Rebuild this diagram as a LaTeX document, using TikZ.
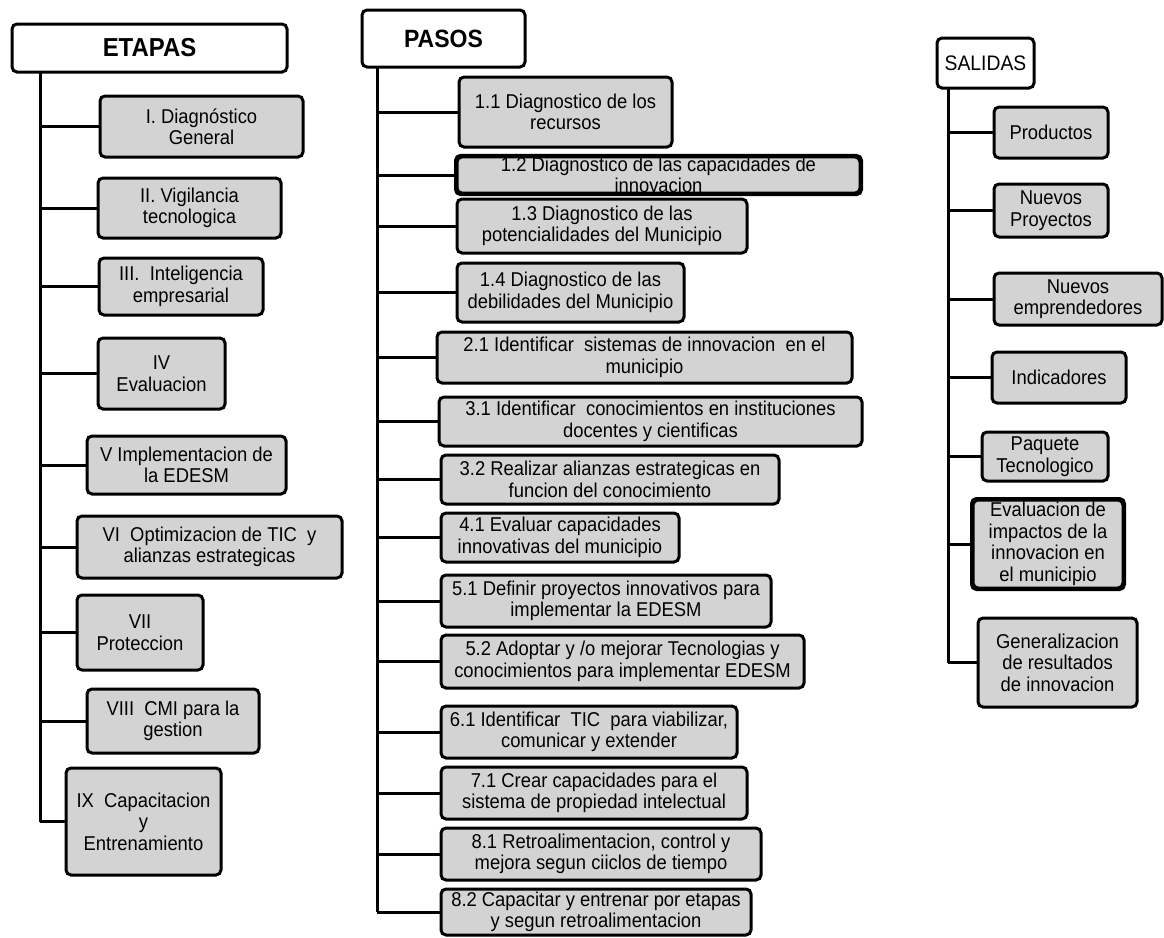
\documentclass[tikz,border=0pt]{standalone}
\usepackage{fontspec}
\setmainfont[FakeStretch=0.92]{Liberation Sans}
\definecolor{boxgray}{RGB}{211,211,211}
\begin{document}
\begin{tikzpicture}[x=1pt,y=-1pt,
  box/.style={draw=black, line width=3pt, rounded corners=5pt, fill=boxgray, inner sep=0pt,
     align=center, font=\fontsize{20}{21.5}\selectfont},
  head/.style={draw=black, line width=3pt, rounded corners=5pt, fill=white, inner sep=0pt, align=center},
  link/.style={draw=black, line width=3pt}]
\useasboundingbox (0,0) rectangle (1164,937);
% ETAPAS
\node[head, font=\bfseries\fontsize{26}{28}\selectfont, minimum width=275pt, minimum height=48pt] (etapas) at (149.5,48) {ETAPAS};
\node[box, minimum width=203pt, minimum height=61pt] (e1) at (201.5,126.5) {I. Diagnóstico\\General};
\node[box, minimum width=183pt, minimum height=60pt] (e2) at (189.5,208) {II. Vigilancia\\tecnologica};
\node[box, minimum width=164pt, minimum height=57pt] (e3) at (181,286.5) {III.\ \ Inteligencia\\empresarial};
\node[box, minimum width=127pt, minimum height=71pt] (e4) at (161.5,373.5) {IV\\Evaluacion};
\node[box, minimum width=199pt, minimum height=58pt] (e5) at (186.5,465) {V Implementacion de\\la EDESM};
\node[box, minimum width=265pt, minimum height=62pt] (e6) at (209.5,547) {VI\ \ Optimizacion de TIC\ \ y\\alianzas estrategicas};
\node[box, minimum width=126pt, minimum height=75pt] (e7) at (140,632.5) {VII\\Proteccion};
\node[box, minimum width=172pt, minimum height=64pt] (e8) at (173,721) {VIII\ \ CMI\ para la\\gestion};
\node[box, minimum width=155pt, minimum height=107pt] (e9) at (143.5,821.5) {IX\ \ Capacitacion\\y\\Entrenamiento};
\coordinate (eTop) at (40,72);
\draw[link] (eTop) -- (eTop |- e9.west);
\foreach \n in {e1,e2,e3,e4,e5,e6,e7,e8,e9} \draw[link] (\n.west) -- (\n.west -| eTop);
% PASOS
\node[head, font=\bfseries\fontsize{25}{27}\selectfont, minimum width=163pt, minimum height=57pt] (pasos) at (443.5,38.5) {PASOS};
\node[box, minimum width=213pt, minimum height=70pt] (p11) at (565.5,112) {1.1 Diagnostico de los\\recursos};
\node[box, minimum width=403pt, minimum height=36pt] (p12) at (658.5,175) {1.2 Diagnostico de las capacidades de\\innovacion};
\draw[line width=3pt, rounded corners=5pt] (p12.north west) rectangle (p12.south east);
\node[box, minimum width=290pt, minimum height=54pt] (p13) at (602,226) {1.3 Diagnostico de las\\potencialidades del Municipio};
\node[box, minimum width=227pt, minimum height=59pt] (p14) at (570.5,292.5) {1.4 Diagnostico de las\\debilidades del Municipio};
\node[box, minimum width=415pt, minimum height=51pt] (p21) at (644.5,357.5) {2.1 Identificar\ \ sistemas de innovacion\ \ en el\\municipio};
\node[box, minimum width=423pt, minimum height=49pt] (p31) at (650.5,421.5) {3.1 Identificar\ \ conocimientos en instituciones\\docentes y cientificas};
\node[box, minimum width=338pt, minimum height=49pt] (p32) at (610,479.5) {3.2 Realizar alianzas estrategicas en\\funcion del conocimiento};
\node[box, minimum width=238pt, minimum height=49pt] (p41) at (560,537.5) {4.1 Evaluar capacidades\\innovativas del municipio};
\node[box, minimum width=330pt, minimum height=52pt] (p51) at (606,601) {5.1 Definir proyectos innovativos para\\implementar la EDESM};
\node[box, minimum width=363pt, minimum height=53pt] (p52) at (622.5,661.5) {5.2 Adoptar\ y /o mejorar Tecnologias y\\conocimientos para implementar EDESM};
\node[box, minimum width=296pt, minimum height=52pt] (p61) at (589,732) {6.1 Identificar\ \ TIC\ \ para viabilizar,\\comunicar y extender};
\node[box, minimum width=306pt, minimum height=52pt] (p71) at (594,793) {7.1 Crear capacidades para el\\sistema de propiedad intelectual};
\node[box, minimum width=320pt, minimum height=52pt] (p81) at (601,854) {8.1 Retroalimentacion, control y\\mejora segun ciiclos de tiempo};
\node[box, minimum width=310pt, minimum height=46pt] (p82) at (596,912) {8.2 Capacitar y entrenar por etapas\\y segun retroalimentacion};
\coordinate (pTop) at (377,67);
\draw[link] (pTop) -- (pTop |- p82.west);
\foreach \n in {p11,p12,p13,p14,p21,p31,p32,p41,p51,p52,p61,p71,p81,p82} \draw[link] (\n.west) -- (\n.west -| pTop);
% SALIDAS
\node[head, font=\fontsize{21}{23}\selectfont, minimum width=97pt, minimum height=50pt] (salidas) at (985.5,63) {SALIDAS};
\node[box, minimum width=114pt, minimum height=51pt] (s1) at (1051,132.5) {Productos};
\node[box, minimum width=114pt, minimum height=53pt] (s2) at (1051,210.5) {Nuevos\\Proyectos};
\node[box, minimum width=168pt, minimum height=52pt] (s3) at (1078,299) {Nuevos\\emprendedores};
\node[box, minimum width=134pt, minimum height=51pt] (s4) at (1059,377.5) {Indicadores};
\node[box, minimum width=126pt, minimum height=49pt] (s5) at (1045,456.5) {Paquete\\Tecnologico};
\node[box, minimum width=150pt, minimum height=88pt] (s6) at (1048,544) {Evaluacion de\\impactos de la\\innovacion en\\el municipio};
\draw[line width=3pt, rounded corners=5pt] (s6.north west) rectangle (s6.south east);
\node[box, minimum width=159pt, minimum height=89pt] (s7) at (1057.5,662.5) {Generalizacion\\de resultados\\de innovacion};
\coordinate (sTop) at (948,88);
\draw[link] (sTop) -- (sTop |- s7.west);
\foreach \n in {s1,s2,s3,s4,s5,s6,s7} \draw[link] (\n.west) -- (\n.west -| sTop);
\end{tikzpicture}
\end{document}
